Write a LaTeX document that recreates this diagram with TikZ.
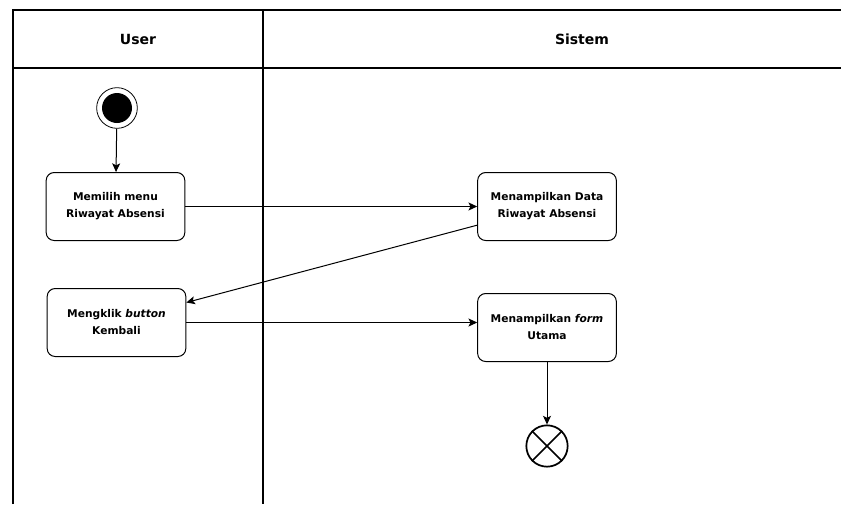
\documentclass[tikz,border=0pt]{standalone}
\usepackage{fontspec}
\setmainfont{DejaVu Sans}
\usetikzlibrary{arrows.meta}

\begin{document}
\begin{tikzpicture}[x=0.75pt,y=0.75pt]
\tikzstyle{every node}+=[inner sep=0pt]
\tikzstyle{lane}=[line width=1.5pt]
\tikzstyle{act}=[draw, rounded corners=6pt, line width=0.75pt, minimum width=104pt, minimum height=51pt, align=center, font=\fontsize{8}{12.75}\selectfont\bfseries]
\tikzstyle{flow}=[line width=0.75pt, -{Stealth[length=6.5pt,width=6pt,inset=1.5pt]}]
\useasboundingbox (0,0) rectangle (841,-504);
% swimlanes
\draw [lane] (13,-504) -- (13,-10) -- (841,-10);
\draw [lane] (13,-68) -- (841,-68);
\draw [lane] (263,-10) -- (263,-504);
\node (user) at (138,-39) {\fontsize{10.5}{12}\selectfont\bfseries User};
\node (sistem) at (582,-39) {\fontsize{10.5}{12}\selectfont\bfseries Sistem};
% start and end
\node [circle, draw, line width=0.6pt, minimum size=30.5pt] (start) at (117,-108) {};
\node [circle, fill=black, minimum size=22.5pt] at (start) {};
\node [circle, draw, line width=1.3pt, minimum size=31pt] (end) at (547,-446) {};
\draw [line width=1.3pt] (end.45) -- (end.225);
\draw [line width=1.3pt] (end.135) -- (end.315);
% actions
\node [act] (pilih) at (115.5,-206.5) {Memilih menu\\Riwayat Absensi};
\node [act] (tampil) at (547,-206.5) {Menampilkan Data\\Riwayat Absensi};
\node [act] (klik) at (116.5,-322.5) {Mengklik \textit{button}\\Kembali};
\node [act] (utama) at (547,-327.5) {Menampilkan \textit{form}\\Utama};
% flows
\draw [flow] (start) -- (pilih);
\draw [flow] (pilih) -- (tampil);
\draw [flow] ([yshift=-14pt]tampil.west) -- ([yshift=15pt]klik.east);
\draw [flow] (klik.east) -- (klik.east -| utama.west);
\draw [flow] (utama) -- (end);
\end{tikzpicture}
\end{document}
